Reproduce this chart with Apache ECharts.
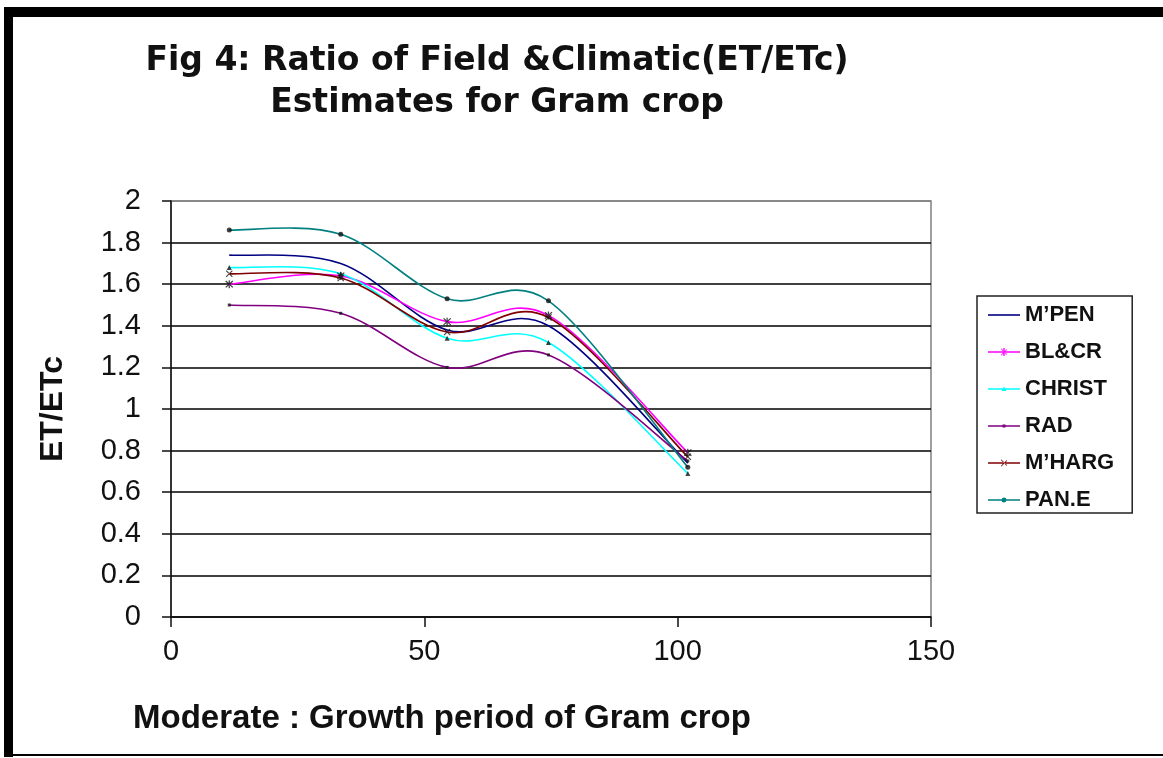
<!DOCTYPE html>
<html><head><meta charset="utf-8">
<script src="https://cdn.jsdelivr.net/npm/echarts@6/dist/echarts.min.js"></script>
<style>html,body{margin:0;padding:0;background:#fff}#c{width:1163px;height:758px}</style>
</head><body><div id="c"></div>
<script>
// Growth period (days) of the readings
const days = [11.5, 33.5, 54.5, 74.5, 102];
// ET/ETc ratio per method
const mPen   = [1.74, 1.70, 1.38, 1.40, 0.74];
const blCr   = [1.60, 1.64, 1.42, 1.45, 0.79];
const christ = [1.68, 1.65, 1.34, 1.32, 0.69];
const rad    = [1.50, 1.46, 1.20, 1.26, 0.75];
const mHarg  = [1.65, 1.63, 1.37, 1.44, 0.77];
const panE   = [1.86, 1.84, 1.53, 1.52, 0.72];
const names  = ['M\u2019PEN', 'BL&CR', 'CHRIST', 'RAD', 'M\u2019HARG', 'PAN.E'];
const values = [mPen, blCr, christ, rad, mHarg, panE];

const colors = ['#000080', '#FF00FF', '#00FFFF', '#800080', '#800000', '#008080'];
const STAR = 'path://M-0.7,-5L0.7,-5L0.7,5L-0.7,5Z M-4.5,-3.5L3.5,4.5L4.5,3.5L-3.5,-4.5Z M4.5,-3.5L-3.5,4.5L-4.5,3.5L3.5,-4.5Z';
const XMARK = 'path://M-4.5,-3.5L3.5,4.5L4.5,3.5L-3.5,-4.5Z M4.5,-3.5L-3.5,4.5L-4.5,3.5L3.5,-4.5Z';
const symbols = [null, [STAR, 8], ['triangle', 5], ['rect', 3], [XMARK, 7], ['circle', 5]];

// legend icons: thin line with a small marker in the middle (32 wide, 8 tall box)
const LINE = 'M0,3.2L32,3.2L32,4.8L0,4.8Z';
const legendIcons = [
  'path://M0,0L32,0L32,1.6L0,1.6Z',
  'path://' + LINE + ' M15.3,0L16.7,0L16.7,8L15.3,8Z M12.8,1L18.6,6.8L19.2,6.2L13.4,0.4Z M19.2,1.8L13.4,7.6L12.8,7L18.6,1.2Z',
  'path://' + LINE + ' M16,1.5L18.5,6L13.5,6Z M0,0L0.01,0L0.01,8L0,8Z',
  'path://' + LINE + ' M14.5,2.5L17.5,2.5L17.5,5.5L14.5,5.5Z M0,0L0.01,0L0.01,8L0,8Z',
  'path://' + LINE + ' M12.8,1L18.6,6.8L19.2,6.2L13.4,0.4Z M19.2,1.8L13.4,7.6L12.8,7L18.6,1.2Z M0,0L0.01,0L0.01,8L0,8Z',
  'path://' + LINE + ' M16,1.5A2.5,2.5 0 1 1 15.99,1.5Z M0,0L0.01,0L0.01,8L0,8Z'
];

const FONT = '"Liberation Sans", Arial, sans-serif';
const chart = echarts.init(document.getElementById('c'), null, {renderer: 'canvas'});

// Excel-style smoothed curve (Catmull-Rom as cubic Bezier) through points placed by the axes
function curveRenderer(vals, color) {
  return function (params, api) {
    if (params.dataIndex !== 0) return null;
    const p = days.map((d, k) => api.coord([d, vals[k]]));
    const n = p.length;
    let path = 'M' + p[0][0] + ',' + p[0][1];
    for (let i = 0; i < n - 1; i++) {
      const p0 = p[Math.max(i - 1, 0)], p1 = p[i], p2 = p[i + 1], p3 = p[Math.min(i + 2, n - 1)];
      const c1x = p1[0] + (p2[0] - p0[0]) / 6, c1y = p1[1] + (p2[1] - p0[1]) / 6;
      const c2x = p2[0] - (p3[0] - p1[0]) / 6, c2y = p2[1] - (p3[1] - p1[1]) / 6;
      path += 'C' + c1x + ',' + c1y + ',' + c2x + ',' + c2y + ',' + p2[0] + ',' + p2[1];
    }
    return {type: 'path', shape: {pathData: path},
      style: {fill: 'none', stroke: color, lineWidth: 1.6}};
  };
}

const series = [];
names.forEach((n, i) => {
  series.push({
    name: n, type: 'custom', coordinateSystem: 'cartesian2d',
    data: days.map((d, k) => [d, values[i][k]]),
    encode: {x: 0, y: 1},
    renderItem: curveRenderer(values[i], colors[i]),
    itemStyle: {color: colors[i]},
    silent: true, z: 2
  });
  if (symbols[i]) {
    series.push({
      name: n, type: 'scatter',
      data: days.map((d, k) => [d, values[i][k]]),
      symbol: symbols[i][0], symbolSize: symbols[i][1],
      itemStyle: {color: '#111', borderWidth: 0},
      emphasis: {disabled: true}, silent: true, z: 3
    });
  }
});

const gridColors = ['#000','#000','#000','#000','#000','#000','#000','#000','#000','#000','#808080'];

chart.setOption({
  animation: false,
  backgroundColor: '#fff',
  title: {
    text: 'Fig 4: Ratio of Field &Climatic(ET/ETc)\nEstimates for Gram crop',
    left: 497, top: 40, padding: 0, textAlign: 'center',
    textStyle: {fontFamily: '"DejaVu Sans", sans-serif', fontWeight: 'bold', fontSize: 33, lineHeight: 42, color: '#111'}
  },
  legend: {
    orient: 'vertical', left: 977, top: 296,
    padding: [8, 18, 2, 11],
    itemWidth: 32, itemHeight: 8, itemGap: 15,
    borderColor: '#222', borderWidth: 1.5,
    textStyle: {fontFamily: FONT, fontWeight: 'bold', fontSize: 22, color: '#111', lineHeight: 22},
    data: names.map((n, i) => ({name: n, icon: legendIcons[i],
      itemStyle: {color: colors[i], borderWidth: 0}}))
  },
  grid: {left: 171, top: 201, right: 232, bottom: 141, show: true, borderColor: '#808080', borderWidth: 1.5},
  xAxis: {
    type: 'value', min: 0, max: 150, interval: 50,
    name: 'Moderate : Growth period of Gram crop',
    nameLocation: 'middle', nameGap: 85,
    nameTextStyle: {fontFamily: FONT, fontWeight: 'bold', fontSize: 33, color: '#111', padding: [0, 218, 0, 0]},
    axisLine: {show: true, onZero: false, lineStyle: {color: '#111', width: 1.5}},
    axisTick: {show: true, inside: false, length: 10, lineStyle: {color: '#111', width: 1.5}},
    axisLabel: {fontFamily: FONT, fontSize: 29, color: '#111', margin: 20},
    splitLine: {show: false}
  },
  yAxis: {
    type: 'value', min: 0, max: 2, interval: 0.2,
    name: 'ET/ETc',
    nameLocation: 'middle', nameGap: 102, nameRotate: 90,
    nameTextStyle: {fontFamily: FONT, fontWeight: 'bold', fontSize: 32, color: '#111'},
    axisLine: {show: true, lineStyle: {color: '#111', width: 1.5}},
    axisTick: {show: true, inside: false, length: 9, lineStyle: {color: '#111', width: 1.5}},
    axisLabel: {fontFamily: FONT, fontSize: 29, color: '#111', margin: 30,
      formatter: v => String(Math.round(v * 10) / 10)},
    splitLine: {show: true, lineStyle: {color: gridColors, width: 1.5}}
  },
  graphic: [
    {type: 'rect', shape: {x: 4, y: 7, width: 1159, height: 10}, style: {fill: '#000'}, silent: true},
    {type: 'rect', shape: {x: 4, y: 7, width: 9, height: 750}, style: {fill: '#000'}, silent: true},
    {type: 'rect', shape: {x: 4, y: 754, width: 1159, height: 2}, style: {fill: '#000'}, silent: true}
  ],
  series: series
});
</script></body></html>
